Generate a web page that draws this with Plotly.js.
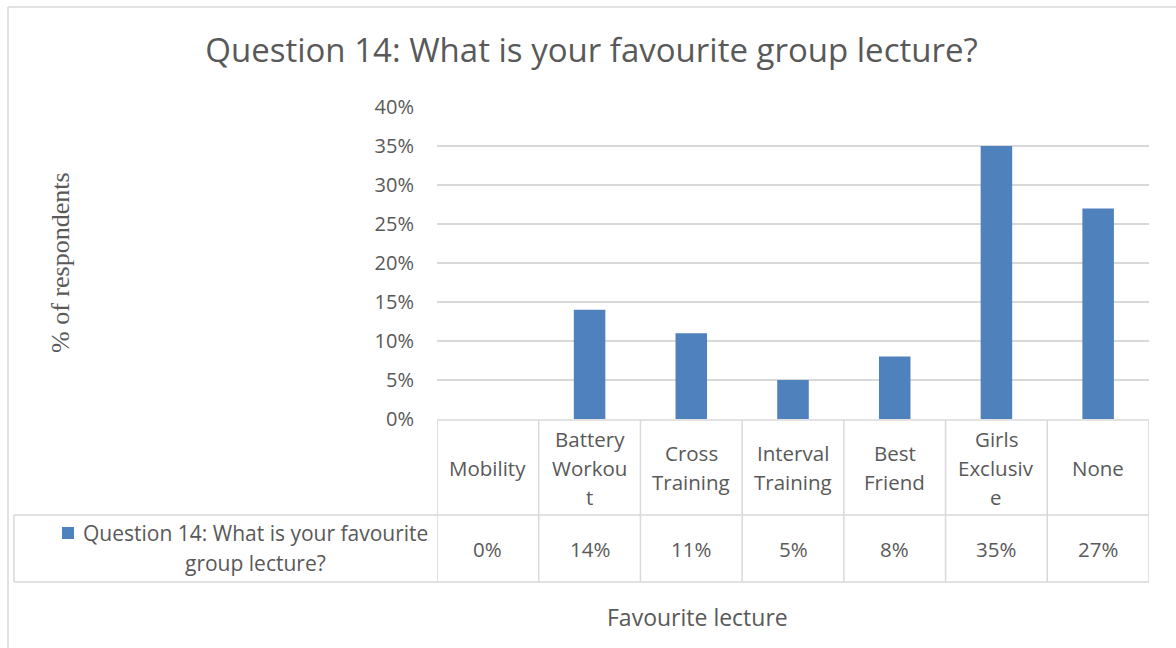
<!DOCTYPE html>
<html>
<head>
<meta charset="utf-8">
<script src="https://cdn.plot.ly/plotly-3.0.1.min.js"></script>
<style>html,body{margin:0;padding:0;background:#fff;}#chart{width:1176px;height:648px;}</style>
</head>
<body>
<div id="chart"></div>
<script>
const categories = ["Mobility", "Battery Workout", "Cross Training", "Interval Training", "Best Friend", "Girls Exclusive", "None"];
const headerLines = [["Mobility"], ["Battery", "Workou", "t"], ["Cross", "Training"], ["Interval", "Training"], ["Best", "Friend"], ["Girls", "Exclusiv", "e"], ["None"]];
const values = [0, 14, 11, 5, 8, 35, 27];
const seriesName = "Question 14: What is your favourite group lecture?";
const legendLines = ["Question 14: What is your favourite", "group lecture?"];
const chartTitle = "Question 14: What is your favourite group lecture?";
const yTitle = "% of respondents";
const xTitle = "Favourite lecture";

const W = 1176, H = 648;
const L = 437, R = 1149, T = 107, B = 419;
const px = x => (x - L) / (R - L);
const py = y => (B - y) / (B - T);
const grey = "#595959", lineC = "#d9d9d9";
const font = "'Open Sans', Lato, sans-serif";

const shapes = [];
const annotations = [];
const line = (x0, y0, x1, y1) => shapes.push({type: "line", xref: "paper", yref: "paper", x0: px(x0), y0: py(y0), x1: px(x1), y1: py(y1), line: {color: lineC, width: 1.5}, layer: "above"});

// outer chart border
line(8, 7, 1176, 7);
line(8, 7, 8, 648);

// table
const rowTop = 420, rowMid = 515, rowBot = 582, tableLeft = 14;
line(L, rowTop, R, rowTop);
line(tableLeft, rowMid, R, rowMid);
line(tableLeft, rowBot, R, rowBot);
line(tableLeft, rowMid, tableLeft, rowBot);
const n = categories.length;
for (let i = 0; i <= n; i++) {
  shapes.push({type: "line", xref: "x", yref: "paper", x0: i - 0.5, x1: i - 0.5, y0: py(rowTop), y1: py(rowBot), line: {color: lineC, width: 1.5}});
}
const lh = 29;
const cellSize = 20.5;
categories.forEach((c, i) => {
  const lines = headerLines[i];
  const mid = (rowTop + rowMid) / 2;
  lines.forEach((t, k) => {
    const y = mid + (k - (lines.length - 1) / 2) * lh;
    annotations.push({xref: "x", yref: "paper", x: i, y: py(y), text: t, showarrow: false, xanchor: "center", yanchor: "middle", font: {family: font, size: cellSize, color: grey}});
  });
  annotations.push({xref: "x", yref: "paper", x: i, y: py((rowMid + rowBot) / 2), text: values[i] + "%", showarrow: false, xanchor: "center", yanchor: "middle", font: {family: font, size: cellSize, color: grey}});
});
// legend cell
shapes.push({type: "rect", xref: "paper", yref: "paper", x0: px(62), x1: px(74), y0: py(527), y1: py(539), fillcolor: "#4f81bd", line: {width: 0}});
legendLines.forEach((t, k) => {
  annotations.push({xref: "paper", yref: "paper", x: px(255), y: py(533 + k * 30), text: t, showarrow: false, xanchor: "center", yanchor: "middle", font: {family: font, size: 21, color: grey}});
});
// axis titles
annotations.push({xref: "paper", yref: "paper", x: px(60), y: py(263), text: yTitle, textangle: -90, showarrow: false, xanchor: "center", yanchor: "middle", font: {family: "'Liberation Serif', 'Times New Roman', serif", size: 26, color: grey}});
annotations.push({xref: "paper", yref: "paper", x: px(697), y: py(617), text: xTitle, showarrow: false, xanchor: "center", yanchor: "middle", font: {family: font, size: 23, color: grey}});

const data = [{
  type: "bar", x: categories, y: values, name: seriesName,
  marker: {color: "#4f81bd"}, width: 0.31, hoverinfo: "x+y"
}];

const layout = {
  width: W, height: H,
  margin: {l: L, r: W - R, t: T, b: H - B, pad: 0},
  paper_bgcolor: "#fff", plot_bgcolor: "#fff",
  showlegend: false,
  title: {text: chartTitle, x: (208 + 975) / 2 / W, xref: "container", xanchor: "center", y: 1 - 50 / H, yref: "container", yanchor: "middle", font: {family: font, size: 33, color: grey}},
  xaxis: {type: "category", showticklabels: false, showgrid: false, zeroline: false, showline: false, ticks: "", range: [-0.5, n - 0.5], fixedrange: true},
  yaxis: {range: [0, 40], dtick: 5, ticksuffix: "%", showgrid: true, gridcolor: lineC, gridwidth: 1.5, zeroline: false, showline: false, ticks: "", ticklabelstandoff: 22, tickfont: {family: font, size: 20, color: grey}, fixedrange: true},
  shapes: shapes,
  annotations: annotations
};

Plotly.newPlot("chart", data, layout, {displayModeBar: false, staticPlot: true});
</script>
</body>
</html>
